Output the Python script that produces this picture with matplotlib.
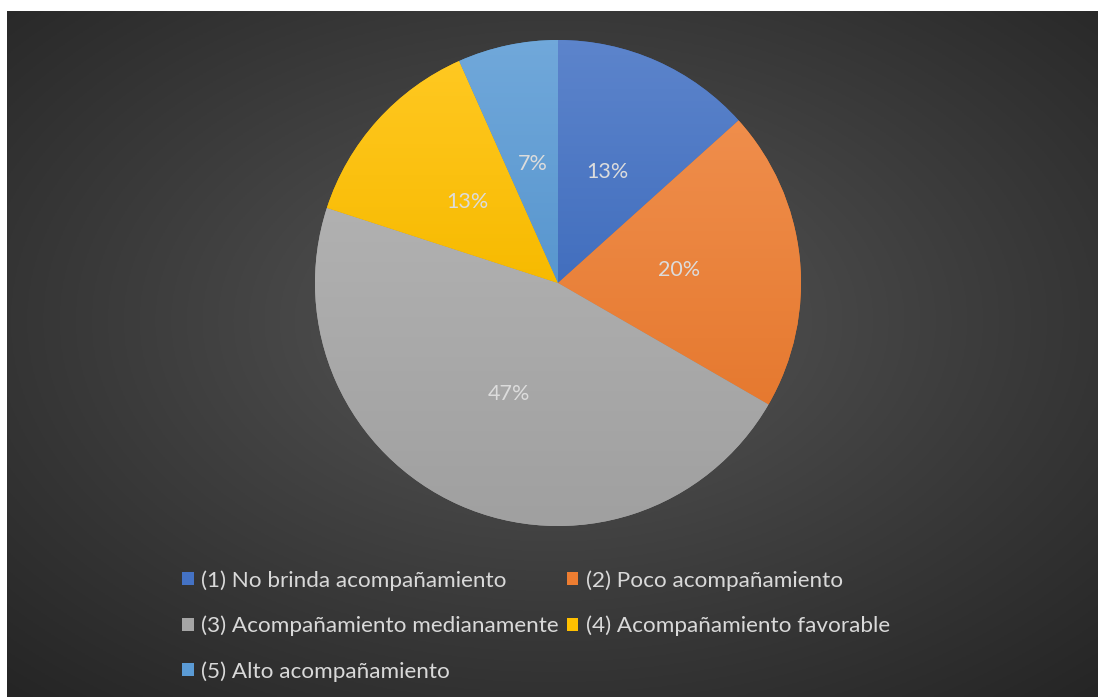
import numpy as np
import matplotlib
matplotlib.use("Agg")
import matplotlib.pyplot as plt
from matplotlib.colors import to_rgb

categories = ["(1) No brinda acompañamiento", "(2) Poco acompañamiento",
              "(3) Acompañamiento medianamente", "(4) Acompañamiento favorable",
              "(5) Alto acompañamiento"]
counts = [2, 3, 7, 2, 1]
colors = ["#4472C4", "#ED7D31", "#A5A5A5", "#FFC000", "#5B9BD5"]

W, H = 1098, 697
fig = plt.figure(figsize=(W / 100, H / 100), dpi=100, facecolor="white")

# background panel with radial gradient
bg = fig.add_axes([7 / W, 0, (W - 7) / W, (H - 11) / H])
bg.set_axis_off()
ny, nx = 343, 546
yy, xx = np.mgrid[0:ny, 0:nx]
cx, cy = nx * 0.5, ny * 0.45
d = np.sqrt(((xx - cx) / nx) ** 2 + ((yy - cy) / ny) ** 2)
d = d / d.max()
inner, outer = 0x5a / 255, 0x25 / 255
v = inner + (outer - inner) * np.clip(d, 0, 1) ** 0.9
img = np.dstack([v, v, v])
bg.imshow(img, extent=[0, 1, 0, 1], aspect="auto", origin="upper")
bg.set_xlim(0, 1)
bg.set_ylim(0, 1)

# pie axes
cxp, cyp, R = 558, 283, 243
ax = fig.add_axes([(cxp - R) / W, (H - cyp - R) / H, 2 * R / W, 2 * R / H])
ax.set_axis_off()
wedges, texts, autotexts = ax.pie(
    counts, colors=colors, startangle=90, counterclock=False, radius=1,
    autopct=lambda p: f"{p:.0f}%", pctdistance=0.5,
    wedgeprops=dict(linewidth=0),
    textprops=dict(color="#dcdcdc", fontsize=15.5, family=["Lato", "DejaVu Sans"]))
ax.set_xlim(-1, 1)
ax.set_ylim(-1, 1)
ax.set_aspect("equal")

def mix(c, t, a):
    c = np.array(to_rgb(c)); t = np.array(to_rgb(t))
    return c * (1 - a) + t * a

for w, c in zip(wedges, colors):
    ext = w.get_path().get_extents()
    top = mix(c, "white", 0.13)
    bot = mix(c, "black", 0.03)
    n = 64
    t = np.linspace(0, 1, n)[:, None]
    grad = top[None, :] * (1 - t) + bot[None, :] * t
    gimg = np.repeat(grad[:, None, :], 2, axis=1)
    im = ax.imshow(gimg, extent=[ext.x0, ext.x1, ext.y0, ext.y1],
                   origin="upper", aspect="auto", zorder=1.5)
    im.set_clip_path(w)
for t_ in autotexts:
    t_.set_zorder(5)
ax.set_xlim(-1, 1)
ax.set_ylim(-1, 1)

# legend (row-major order like the original)
order = [0, 2, 4, 1, 3]
fs = 16.2
leg = fig.legend([wedges[i] for i in order], [categories[i] for i in order],
                 ncol=2, loc="upper left",
                 bbox_to_anchor=(171 / W, 1 - 559 / H),
                 frameon=False,
                 prop=dict(family=["Lato", "DejaVu Sans"], size=fs),
                 handlelength=0.5, handleheight=0.5, handletextpad=0.35,
                 columnspacing=0.35, labelspacing=1.1, borderpad=0,
                 labelcolor="#d9d9d9")

fig.savefig("out.png", dpi=100, facecolor="white")
